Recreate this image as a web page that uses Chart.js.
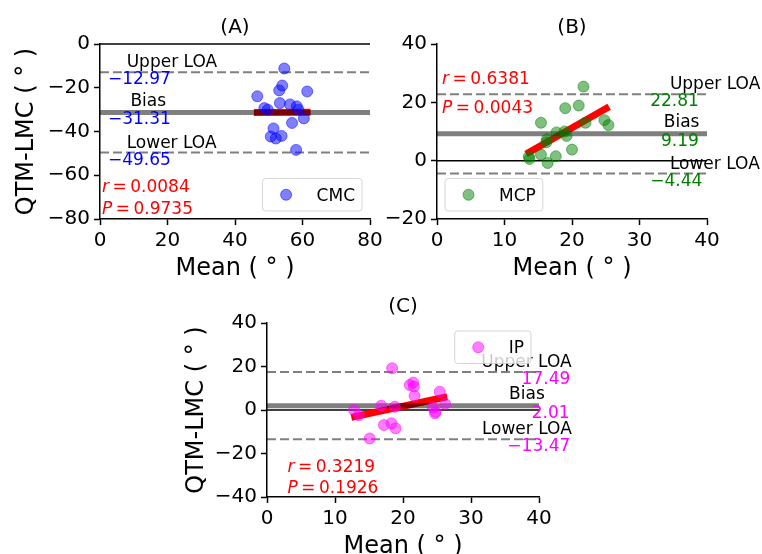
<!DOCTYPE html>
<html>
<head>
<meta charset="utf-8">
<script src="https://cdn.jsdelivr.net/npm/chart.js@4.4.0/dist/chart.umd.min.js"></script>
<style>
  body { margin: 0; background: #fff; }
  #wrap { position: relative; width: 762px; height: 554px; overflow: hidden; }
  canvas { position: absolute; }
</style>
</head>
<body>
<div id="wrap">
  <canvas id="chartA" width="390" height="290" style="left:0;top:0"></canvas>
  <canvas id="chartB" width="382" height="290" style="left:380px;top:0"></canvas>
  <canvas id="chartC" width="430" height="274" style="left:170px;top:280px"></canvas>
</div>
<script>
// CMC
const cmcMean = [54.6, 54.0, 53.1, 46.6, 61.4, 53.3, 56.3, 58.3, 48.7, 49.7, 58.8, 60.4, 56.9, 51.4, 50.6, 52.1, 53.8, 58.1];
const cmcDiff = [-11.2, -19.0, -21.2, -23.9, -21.7, -27.0, -27.6, -28.5, -29.3, -30.0, -30.0, -34.0, -36.1, -38.6, -42.3, -43.2, -42.0, -48.4];
const cmcFitX = [45.6, 62.4];
const cmcFitY = [-31.35, -31.25];

// MCP
const mcpMean = [21.7, 19.0, 21.0, 15.4, 22.0, 24.8, 25.4, 17.7, 18.9, 19.2, 16.3, 16.2, 20.0, 13.6, 15.4, 17.6, 16.4, 13.7];
const mcpDiff = [25.4, 18.0, 18.9, 13.0, 13.0, 13.9, 12.2, 9.7, 10.0, 8.5, 7.4, 6.3, 3.8, 1.4, 2.1, 1.5, -0.8, 0.6];
const mcpFitX = [13.2, 25.5];
const mcpFitY = [2.3, 18.5];

// IP
const ipMean = [18.4, 21.0, 21.5, 21.6, 21.7, 25.4, 26.2, 24.4, 24.7, 24.8, 16.8, 18.8, 12.8, 13.5, 17.2, 18.3, 18.9, 15.1];
const ipDiff = [19.2, 11.5, 12.6, 10.8, 6.5, 8.4, 2.8, 1.2, -1.5, -0.9, 2.0, 1.5, 0.0, -2.4, -6.9, -6.1, -8.4, -13.1];
const ipFitX = [12.4, 26.5];
const ipFitY = [-3.4, 6.1];

// bland-altman stats (A, B, C)
const bias = [-31.31, 9.19, 2.01];
const upperLoa = [-12.97, 22.81, 17.49];
const lowerLoa = [-49.65, -4.44, -13.47];
const rVals = ['0.0084', '0.6381', '0.3219'];
const pVals = ['0.9735', '0.0043', '0.1926'];

// ticks
const xTicksA = [0, 20, 40, 60, 80];
const yTicksA = [-80, -60, -40, -20, 0];
const xTicksBC = [0, 10, 20, 30, 40];
const yTicksB = [-20, 0, 20, 40];
const yTicksC = [-40, -20, 0, 20, 40];

const FONT = '"DejaVu Sans"';
Chart.defaults.font.family = 'DejaVu Sans';

function minus(s) {
	return String(s).replace('-', '\u2212');
}

function hLine(y, x0, x1) {
	return [{x: x0, y: y}, {x: x1, y: y}];
}

const panelDecor = {
	id: 'panelDecor',
	afterDraw(chart) {
		const p = chart.options.plugins.panelDecor;
		const ctx = chart.ctx;
		const ca = chart.chartArea;
		const xs = chart.scales.x, ys = chart.scales.y;
		ctx.save();
		ctx.textBaseline = 'alphabetic';

		// title + axis titles
		ctx.fillStyle = '#000';
		ctx.textAlign = 'center';
		ctx.font = '20px ' + FONT;
		ctx.fillText(p.title, (ca.left + ca.right) / 2, ca.top - 11);
		ctx.font = '24px ' + FONT;
		ctx.fillText('Mean ( \u00b0 )', (ca.left + ca.right) / 2, ca.bottom + 56);
		if (p.yTitle) {
			ctx.save();
			ctx.translate(ca.left - p.yTitleOff, (ca.top + ca.bottom) / 2);
			ctx.rotate(-Math.PI / 2);
			ctx.fillText('QTM-LMC ( \u00b0 )', 0, 0);
			ctx.restore();
		}

		// LOA labels
		const vals = [p.upper, p.bias, p.lower];
		const names = ['Upper LOA', 'Bias', 'Lower LOA'];
		ctx.font = '17px ' + FONT;
		vals.forEach((v, i) => {
			const y = ys.getPixelForValue(v);
			ctx.fillStyle = '#000';
			ctx.textAlign = 'left';
			ctx.fillText(names[i], xs.getPixelForValue(p.labelX[i]), y - (i == 1 ? 6.5 : 5));
			ctx.fillStyle = p.color;
			ctx.textAlign = 'right';
			ctx.fillText(minus(v.toFixed(2)), xs.getPixelForValue(p.valueX[i]), y + 12);
		});

		// r and P
		ctx.fillStyle = 'red';
		ctx.textAlign = 'left';
		[['r', p.r, p.rPos], ['P', p.p, p.pPos]].forEach(s => {
			let x = xs.getPixelForValue(s[2][0]);
			const y = ys.getPixelForValue(s[2][1]);
			ctx.font = 'italic 17px ' + FONT;
			ctx.fillText(s[0], x, y);
			x += ctx.measureText(s[0]).width + 3.5;
			ctx.font = '17px ' + FONT;
			ctx.fillText('=', x, y);
			x += ctx.measureText('=').width + 3.5;
			ctx.fillText(s[1], x, y);
		});

		// legend
		ctx.font = '17px ' + FONT;
		const tw = ctx.measureText(p.name).width;
		const w = 54 + tw + 7, h = 32.5;
		const bx = p.legend.indexOf('right') >= 0 ? ca.right - 8 - w : ca.left + 8;
		const by = p.legend.indexOf('lower') >= 0 ? ca.bottom - 8 - h : ca.top + 8;
		ctx.beginPath();
		ctx.roundRect(bx, by, w, h, 3);
		ctx.fillStyle = 'rgba(255,255,255,0.8)';
		ctx.fill();
		ctx.strokeStyle = 'rgba(204,204,204,0.8)';
		ctx.lineWidth = 1;
		ctx.stroke();
		ctx.beginPath();
		ctx.arc(bx + 23.5, by + h / 2, 5.5, 0, Math.PI * 2);
		ctx.fillStyle = p.fill;
		ctx.fill();
		ctx.strokeStyle = p.fill;
		ctx.stroke();
		ctx.fillStyle = '#000';
		ctx.fillText(p.name, bx + 54, by + h / 2 + 6);
		ctx.restore();
	}
};

function makePanel(id, p) {
	const lineBase = {showLine: true, pointRadius: 0, clip: 6};
	const datasets = [
		{
			data: p.mean.map((m, i) => ({x: m, y: p.diff[i]})),
			showLine: false,
			pointRadius: 5.5,
			pointBorderWidth: 1,
			pointBackgroundColor: p.fill,
			pointBorderColor: p.fill
		},
		Object.assign({data: hLine(p.bias, p.xMin, p.xMax), borderColor: 'rgba(0,0,0,0.5)', borderWidth: 5}, lineBase),
		Object.assign({data: p.fitX.map((x, i) => ({x: x, y: p.fitY[i]})), borderColor: '#ff0000', borderWidth: 7}, lineBase),
		Object.assign({data: hLine(p.upper, p.xMin, p.xMax), borderColor: 'rgba(0,0,0,0.5)', borderWidth: 2, borderDash: [9, 4]}, lineBase),
		Object.assign({data: hLine(p.lower, p.xMin, p.xMax), borderColor: 'rgba(0,0,0,0.5)', borderWidth: 2, borderDash: [9, 4]}, lineBase),
		Object.assign({data: hLine(0, p.xMin, p.xMax), borderColor: '#000', borderWidth: 1.5}, lineBase)
	];

	const axis = (ticks, min, max, fit) => ({
		type: 'linear',
		min: min,
		max: max,
		afterBuildTicks: s => { s.ticks = ticks.map(v => ({value: v})); },
		afterFit: fit,
		grid: {drawOnChartArea: false, drawTicks: true, tickLength: 6, tickWidth: 1.5, color: '#000'},
		border: {display: true, color: '#000', width: 1.5},
		ticks: {
			color: '#000',
			font: {size: 20},
			padding: 4,
			autoSkip: false,
			maxRotation: 0,
			callback: v => minus(v)
		}
	});

	return new Chart(document.getElementById(id), {
		type: 'scatter',
		data: {datasets: datasets},
		plugins: [panelDecor],
		options: {
			responsive: false,
			animation: false,
			events: [],
			layout: {padding: {left: 0, top: p.padTop, right: p.padRight, bottom: 0}},
			scales: {
				x: Object.assign(axis(p.xTicks, p.xMin, p.xMax, s => { s.height = p.xh; }), {position: 'bottom'}),
				y: Object.assign(axis(p.yTicks, p.yMin, p.yMax, s => { s.width = p.yw; }), {position: 'left'})
			},
			plugins: {
				legend: {display: false},
				tooltip: {enabled: false},
				panelDecor: p
			}
		}
	});
}

makePanel('chartA', {
	title: '(A)', name: 'CMC', color: '#0000ff', fill: 'rgba(0,0,255,0.5)',
	mean: cmcMean, diff: cmcDiff, fitX: cmcFitX, fitY: cmcFitY,
	bias: bias[0], upper: upperLoa[0], lower: lowerLoa[0], r: rVals[0], p: pVals[0],
	xTicks: xTicksA, yTicks: yTicksA, xMin: 0, xMax: 80, yMin: -80, yMax: 0,
	labelX: [7.9, 9.0, 7.9], valueX: [21.0, 21.0, 21.0],
	rPos: [0.6, -67.5], pPos: [0.6, -77.8],
	legend: 'lower right', yTitle: true, yTitleOff: 67,
	padTop: 44, padRight: 20, yw: 100, xh: 71
});

makePanel('chartB', {
	title: '(B)', name: 'MCP', color: '#008000', fill: 'rgba(0,128,0,0.5)',
	mean: mcpMean, diff: mcpDiff, fitX: mcpFitX, fitY: mcpFitY,
	bias: bias[1], upper: upperLoa[1], lower: lowerLoa[1], r: rVals[1], p: pVals[1],
	xTicks: xTicksBC, yTicks: yTicksB, xMin: 0, xMax: 40, yMin: -20, yMax: 40,
	labelX: [34.5, 33.6, 34.5], valueX: [38.8, 38.8, 39.3],
	rPos: [0.75, 26.2], pPos: [0.75, 16.5],
	legend: 'lower left', yTitle: false,
	padTop: 44, padRight: 55, yw: 57, xh: 71
});

makePanel('chartC', {
	title: '(C)', name: 'IP', color: '#ff00ff', fill: 'rgba(255,0,255,0.5)',
	mean: ipMean, diff: ipDiff, fitX: ipFitX, fitY: ipFitY,
	bias: bias[2], upper: upperLoa[2], lower: lowerLoa[2], r: rVals[2], p: pVals[2],
	xTicks: xTicksBC, yTicks: yTicksC, xMin: 0, xMax: 40, yMin: -40, yMax: 40,
	labelX: [31.5, 35.6, 31.6], valueX: [44.6, 44.5, 44.6],
	rPos: [3.0, -28.5], pPos: [3.0, -38.2],
	legend: 'upper right', yTitle: true, yTitleOff: 64,
	padTop: 43, padRight: 61, yw: 97, xh: 57
});
</script>
</body>
</html>
